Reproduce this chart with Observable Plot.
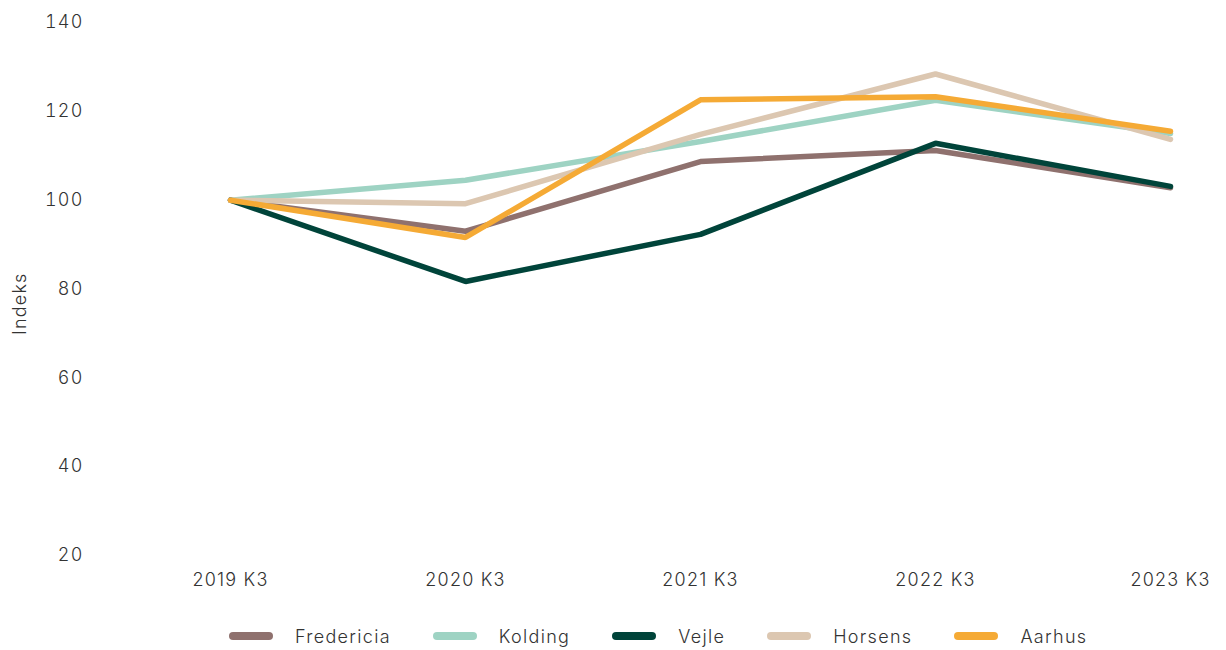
<!DOCTYPE html>
<html>
<head>
<meta charset="utf-8">
<script src="https://cdn.jsdelivr.net/npm/d3@7"></script>
<script src="https://cdn.jsdelivr.net/npm/@observablehq/plot@0.6"></script>
<style>
  body { margin: 0; background: #fff; font-family: Inter, "Noto Sans", sans-serif; }
  #legend { display: flex; align-items: center; height: 32px; padding-left: 229px; font-size: 18px; font-weight: 300; color: #333; letter-spacing: 1.3px; }
  .item { display: flex; align-items: center; margin-right: 42px; }
  .sw { width: 44px; height: 8px; border-radius: 4px; margin-right: 22px; }
</style>
</head>
<body>
<div id="chart"></div>
<div id="legend"></div>
<script>
const periods = ["2019 K3", "2020 K3", "2021 K3", "2022 K3", "2023 K3"];
const cities = ["Fredericia", "Kolding", "Vejle", "Horsens", "Aarhus"];
const colors = ["#8f716e", "#9ed3c3", "#00443a", "#dcc7b1", "#f5aa35"];
const fredericia = [100, 93.0, 108.7, 111.2, 102.8];
const kolding    = [100, 104.5, 113.2, 122.5, 115.0];
const vejle      = [100, 81.7, 92.3, 112.8, 103.1];
const horsens    = [100, 99.2, 114.8, 128.4, 113.7];
const aarhus     = [100, 91.6, 122.6, 123.3, 115.5];
const yTicks = [20, 40, 60, 80, 100, 120, 140];
const yLabel = "Indeks";

const seriesValues = [fredericia, kolding, vejle, horsens, aarhus];
const data = [];
cities.forEach((c, i) => periods.forEach((p, j) => data.push({city: c, period: p, value: seriesValues[i][j]})));

const chart = Plot.plot({
  width: 1226,
  height: 620,
  marginTop: 22,
  marginBottom: 65,
  marginLeft: 228,
  marginRight: 55,
  style: { fontFamily: "Inter, 'Noto Sans', sans-serif", fontSize: "18px", fontWeight: 300, color: "#333", letterSpacing: "1.2px" },
  x: { type: "point", domain: periods, padding: 0, label: null },
  y: { domain: [20, 140], label: null },
  color: { domain: cities, range: colors },
  marks: [
    Plot.axisX({ tickSize: 0, tickPadding: 18, label: null }),
    Plot.axisY({ ticks: yTicks, tickSize: 0, tickPadding: 145, label: null }),
    Plot.text([yLabel], { frameAnchor: "left", dx: -208, dy: 46, rotate: -90, fontSize: 18, fill: "#333" }),
    Plot.line(data, { x: "period", y: "value", z: "city", stroke: "city", strokeWidth: 5.5, strokeLinecap: "round", strokeLinejoin: "miter" })
  ]
});
document.getElementById("chart").appendChild(chart);

const legend = document.getElementById("legend");
cities.forEach((c, i) => {
  const it = document.createElement("div");
  it.className = "item";
  const sw = document.createElement("div");
  sw.className = "sw";
  sw.style.background = colors[i];
  const t = document.createElement("span");
  t.textContent = c;
  it.appendChild(sw); it.appendChild(t);
  legend.appendChild(it);
});
</script>
</body>
</html>
